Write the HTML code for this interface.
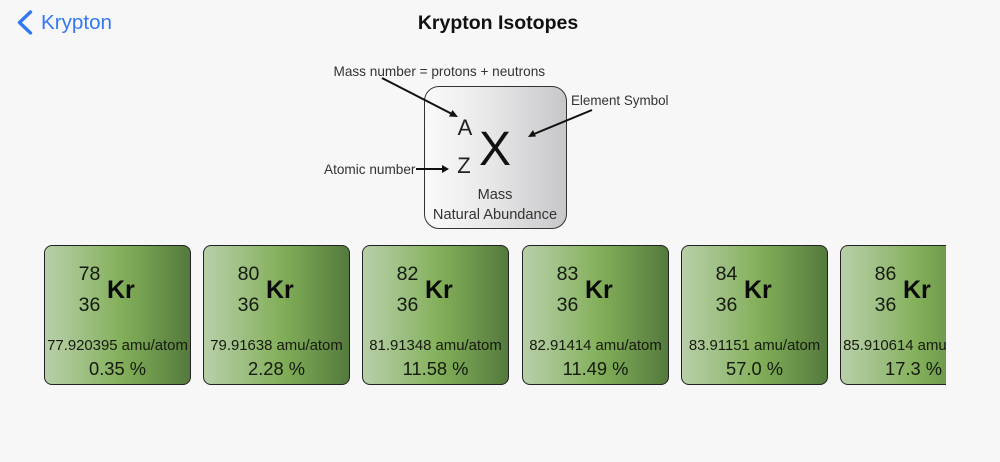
<!DOCTYPE html>
<html>
<head>
<meta charset="utf-8">
<style>
html,body{margin:0;padding:0;width:1000px;height:462px;overflow:hidden;background:#f7f7f7;font-family:"Liberation Sans",sans-serif;color:#111}
.t{position:absolute;white-space:nowrap}
.c{text-align:center;transform:translateX(-50%)}
#clip{position:absolute;left:0;top:235px;width:946px;height:160px;overflow:hidden}
.card{position:absolute;top:10px;width:145px;height:138px;border:1.3px solid #222;border-radius:8px;background:linear-gradient(90deg,#b9cfa8 0%,#9fc186 25%,#84b05a 52%,#7aa654 62%,#547a3c 100%);filter:blur(.3px)}
.card .t{color:#15190f}
.n{font-size:19.5px;line-height:20px}
.s{font-size:25px;font-weight:bold;line-height:30px;color:#0a0a0a!important}
.m{font-size:14.9px;line-height:16px;left:72.5px}
.p{font-size:18.3px;line-height:20px;left:72.5px}
.lab{font-size:13.6px;line-height:15px;color:#333}
</style>
</head>
<body>
<svg width="20" height="28" style="position:absolute;left:15px;top:9px" viewBox="0 0 20 28"><path d="M15.5 3 L4.5 13.5 L15.5 24" fill="none" stroke="#3478f0" stroke-width="3.4" stroke-linecap="round" stroke-linejoin="round"/></svg>
<div class="t" style="left:41px;top:11px;font-size:20.6px;line-height:24px;color:#3478f0">Krypton</div>
<div class="t c" style="left:498px;top:11px;font-size:19.5px;line-height:24px;font-weight:bold;color:#111">Krypton Isotopes</div>

<div style="position:absolute;left:424px;top:86px;width:141px;height:141px;border:1.5px solid #333;border-radius:15px;background:linear-gradient(90deg,#fafafa 0%,#e8e8e9 45%,#c6c7c9 100%)"></div>
<div class="t lab" style="left:333.5px;top:64px">Mass number = protons + neutrons</div>
<div class="t lab" style="left:571px;top:93px;font-size:13.4px">Element Symbol</div>
<div class="t lab" style="left:324px;top:162px">Atomic number</div>
<div class="t c" style="left:465px;top:115px;font-size:22px;line-height:26px;color:#222">A</div>
<div class="t c" style="left:464px;top:153px;font-size:22px;line-height:26px;color:#222">Z</div>
<div class="t c" style="left:495px;top:123px;font-size:48px;line-height:54px;color:#111">X</div>
<div class="t c lab" style="left:495px;top:187px;font-size:14.6px;line-height:16px">Mass</div>
<div class="t c lab" style="left:495px;top:207px;font-size:14.6px;line-height:16px">Natural Abundance</div>
<svg width="1000" height="240" style="position:absolute;left:0;top:0">
<g stroke="#111" stroke-width="2" fill="#111">
<line x1="382" y1="78" x2="452" y2="114"/><polygon points="458,117 449,116.5 452.5,110" stroke="none"/>
<line x1="416" y1="169" x2="444" y2="169"/><polygon points="449,169 442,165 442,173" stroke="none"/>
<line x1="592" y1="110" x2="534" y2="134"/><polygon points="528,137 533,130 536,136.5" stroke="none"/>
</g>
</svg>

<div id="clip">
<div class="card" style="left:44px"><div class="t c n" style="left:44.5px;top:18px">78</div><div class="t c n" style="left:44.5px;top:49px">36</div><div class="t s" style="left:62px;top:29px">Kr</div><div class="t c m" style="top:92px">77.920395 amu/atom</div><div class="t c p" style="top:113px">0.35 %</div></div>
<div class="card" style="left:203px"><div class="t c n" style="left:44.5px;top:18px">80</div><div class="t c n" style="left:44.5px;top:49px">36</div><div class="t s" style="left:62px;top:29px">Kr</div><div class="t c m" style="top:92px">79.91638 amu/atom</div><div class="t c p" style="top:113px">2.28 %</div></div>
<div class="card" style="left:362px"><div class="t c n" style="left:44.5px;top:18px">82</div><div class="t c n" style="left:44.5px;top:49px">36</div><div class="t s" style="left:62px;top:29px">Kr</div><div class="t c m" style="top:92px">81.91348 amu/atom</div><div class="t c p" style="top:113px">11.58 %</div></div>
<div class="card" style="left:522px"><div class="t c n" style="left:44.5px;top:18px">83</div><div class="t c n" style="left:44.5px;top:49px">36</div><div class="t s" style="left:62px;top:29px">Kr</div><div class="t c m" style="top:92px">82.91414 amu/atom</div><div class="t c p" style="top:113px">11.49 %</div></div>
<div class="card" style="left:681px"><div class="t c n" style="left:44.5px;top:18px">84</div><div class="t c n" style="left:44.5px;top:49px">36</div><div class="t s" style="left:62px;top:29px">Kr</div><div class="t c m" style="top:92px">83.91151 amu/atom</div><div class="t c p" style="top:113px">57.0 %</div></div>
<div class="card" style="left:840px"><div class="t c n" style="left:44.5px;top:18px">86</div><div class="t c n" style="left:44.5px;top:49px">36</div><div class="t s" style="left:62px;top:29px">Kr</div><div class="t c m" style="top:92px">85.910614 amu/atom</div><div class="t c p" style="top:113px">17.3 %</div></div>
</div>
</body>
</html>
